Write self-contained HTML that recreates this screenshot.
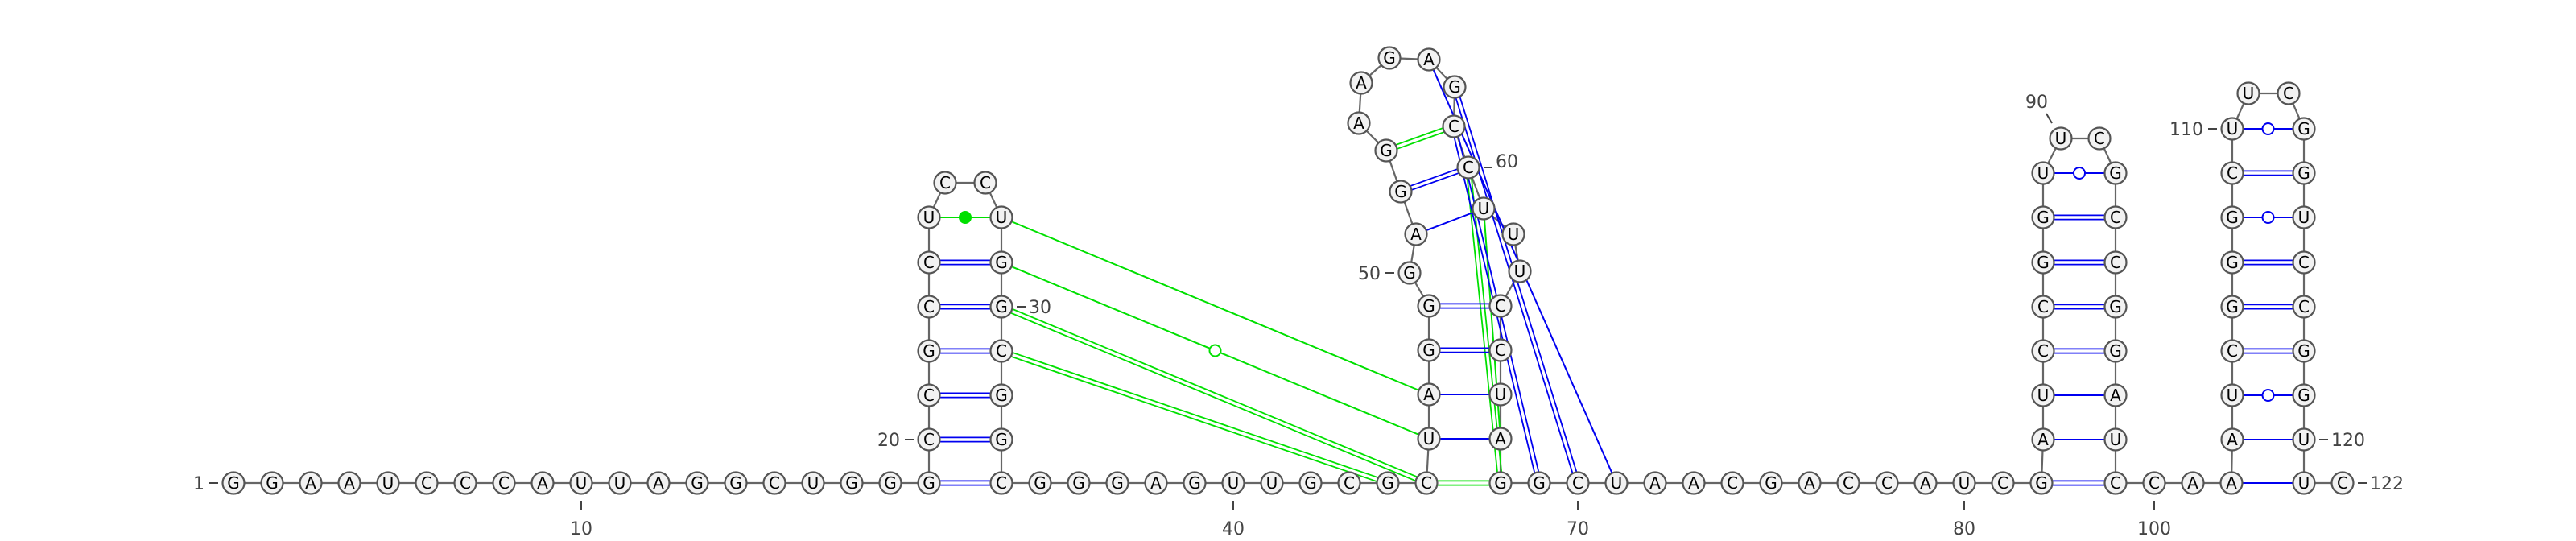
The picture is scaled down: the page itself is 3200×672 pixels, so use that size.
<!DOCTYPE html>
<html><head><meta charset="utf-8"><style>
html,body{margin:0;padding:0;background:#fff;}
svg{display:block;}
text{font-family:"DejaVu Sans","Liberation Sans",sans-serif;}
</style></head><body>
<svg id="chart" width="3200" height="672" viewBox="0 0 3200 672" xmlns="http://www.w3.org/2000/svg">
<g id="backbone"></g>
<g id="pairs"></g>
<g id="nts"></g>
<g id="labels"></g>
</svg>
<script>
const sequenceParts = ["GGAAUCCCAUUAGGCUGGG","CCGCCU","CC","UGGCGGC","GGGAGUUGCGC","UAGG","GAGGAAGAGCCUUU","CCUAG","GCUAACGACCAUCG","AUCCGGU","UC","GCCGGAUC","CAA","AUCGGGCU","UC","GGUCCGGUU","C"];
const sequence = sequenceParts.join("");
// pairs: [i, j, kind] kind: wc=double, au=single, gu=open circle, nc=filled dot
const pairsBlue = [
 [19,34,"wc"],[20,33,"wc"],[21,32,"wc"],[22,31,"wc"],[23,30,"wc"],[24,29,"wc"],
 [46,67,"au"],[47,66,"au"],[48,65,"wc"],[49,64,"wc"],[52,60,"wc"],[51,61,"au"],
 [57,71,"au"],[58,70,"wc"],[59,69,"wc"],
 [82,99,"wc"],[83,98,"au"],[84,97,"au"],[85,96,"wc"],[86,95,"wc"],[87,94,"wc"],[88,93,"wc"],[89,92,"gu"],
 [102,121,"au"],[103,120,"au"],[104,119,"gu"],[105,118,"wc"],[106,117,"wc"],[107,116,"wc"],[108,115,"gu"],[109,114,"wc"],[110,113,"gu"]
];
const pairsGreen = [
 [25,28,"nc"],[28,47,"au"],[29,46,"gu"],[30,45,"wc"],[31,44,"wc"],
 [45,68,"wc"],[53,59,"wc"],[60,68,"wc"],[61,67,"au"]
];
const tickNums = [1,10,20,30,40,50,60,70,80,90,100,110,120,122];

// layout
const P = {};
const step = 48, Y0 = 600;
const rows = [600,546,491,436,381,326,270,215,160];
for (let i=1;i<=19;i++) P[i]=[290+(i-1)*step,Y0];
for (let k=1;k<=6;k++) P[19+k]=[1154,rows[k]];
P[26]=[1174,227]; P[27]=[1224,227];
for (let k=0;k<=6;k++) P[34-k]=[1244,rows[k]];
for (let i=35;i<=45;i++) P[i]=[1244+(i-34)*step,Y0];
P[46]=[1775,545];P[47]=[1775,490];P[48]=[1775,435];P[49]=[1775,380];
const loop2=[[1751,339],[1759,291],[1740,238],[1722,187],[1688,153],[1691,103],[1726,72],[1775,74],[1807,108],[1806,157],[1824,208],[1843,259],[1880,291],[1888,337]];
loop2.forEach((p,k)=>P[50+k]=p);
P[64]=[1864,380];P[65]=[1864,435];P[66]=[1864,490];P[67]=[1864,545];P[68]=[1864,600];
for (let i=69;i<=82;i++) P[i]=[1864+(i-68)*step,Y0];
for (let k=1;k<=7;k++) P[82+k]=[2538,rows[k]];
P[90]=[2560,172]; P[91]=[2608,172];
for (let k=0;k<=7;k++) P[99-k]=[2628,rows[k]];
for (let i=100;i<=102;i++) P[i]=[2628+(i-99)*step,Y0];
for (let k=1;k<=8;k++) P[102+k]=[2773,rows[k]];
P[111]=[2793,116]; P[112]=[2843,116];
for (let k=0;k<=8;k++) P[121-k]=[2862,rows[k]];
P[122]=[2910,Y0];

const NS="http://www.w3.org/2000/svg";
function mk(tag,attrs,parent){const e=document.createElementNS(NS,tag);for(const k in attrs)e.setAttribute(k,attrs[k]);parent.appendChild(e);return e;}
const gB=document.getElementById('backbone'),gP=document.getElementById('pairs'),gN=document.getElementById('nts'),gL=document.getElementById('labels');

for (let i=1;i<sequence.length;i++){
  const a=P[i],b=P[i+1];
  if(!a||!b) continue;
  const l=mk('line',{x1:a[0],y1:a[1],x2:b[0],y2:b[1],stroke:'#666','stroke-width':2.2},gB);
  
  
}
function drawPair(pr,color){
  const a=P[pr[0]],b=P[pr[1]],kind=pr[2];
  const g=mk('g',{},gP);
  
  
  if(kind==="wc"){
    const dx=b[0]-a[0],dy=b[1]-a[1],L=Math.hypot(dx,dy),nx=-dy/L*2.6,ny=dx/L*2.6;
    [1,-1].forEach(s=>mk('line',{x1:a[0]+s*nx,y1:a[1]+s*ny,x2:b[0]+s*nx,y2:b[1]+s*ny,stroke:color,'stroke-width':1.8},g));
  } else {
    mk('line',{x1:a[0],y1:a[1],x2:b[0],y2:b[1],stroke:color,'stroke-width':2},g);
    const mx=(a[0]+b[0])/2,my=(a[1]+b[1])/2;
    if(kind==="gu") mk('circle',{cx:mx,cy:my,r:7,fill:'#fff',stroke:color,'stroke-width':2},g);
    if(kind==="nc") mk('circle',{cx:mx,cy:my,r:8,fill:color},g);
  }
}
pairsGreen.forEach(p=>drawPair(p,'#00e000'));
pairsBlue.forEach(p=>drawPair(p,'#0000f0'));

for (let i=1;i<=sequence.length;i++){
  const p=P[i];
  if(!p) continue;
  const g=mk('g',{},gN);
  
  
  mk('circle',{cx:p[0],cy:p[1],r:13.5,fill:'#f2f2f2',stroke:'#555','stroke-width':2.2},g);
  const t=mk('text',{x:p[0],y:p[1]+7,'text-anchor':'middle','font-size':20,fill:'#000'},g);
  t.textContent=sequence[i-1];
}
const place={1:'left',10:'below',20:'left',30:'right',40:'below',50:'left',60:'right',70:'below',80:'below',90:'upleft',100:'below',110:'left',120:'right',122:'right'};
tickNums.forEach(n=>{
  const p=P[n],k=place[n];
  const g=mk('g',{},gL);
  
  
  let t;
  if(k==='below'){
    mk('line',{x1:p[0],y1:p[1]+22,x2:p[0],y2:p[1]+34,stroke:'#444','stroke-width':2},g);
    t=mk('text',{x:p[0],y:p[1]+64,'text-anchor':'middle'},g);
  } else if(k==='left'){
    mk('line',{x1:p[0]-30,y1:p[1],x2:p[0]-19,y2:p[1],stroke:'#444','stroke-width':2},g);
    t=mk('text',{x:p[0]-36,y:p[1]+8,'text-anchor':'end'},g);
  } else if(k==='right'){
    mk('line',{x1:p[0]+19,y1:p[1],x2:p[0]+30,y2:p[1],stroke:'#444','stroke-width':2},g);
    t=mk('text',{x:p[0]+34,y:p[1]+8,'text-anchor':'start'},g);
  } else {
    mk('line',{x1:p[0]-11,y1:p[1]-19,x2:p[0]-18,y2:p[1]-31,stroke:'#444','stroke-width':2},g);
    t=mk('text',{x:p[0]-30,y:p[1]-38,'text-anchor':'middle'},g);
  }
  if(n===60){t.setAttribute('y',p[1]);}
  t.setAttribute('font-size','22');t.setAttribute('fill','#444');
  t.textContent=String(n);
});
</script>
</body></html>
